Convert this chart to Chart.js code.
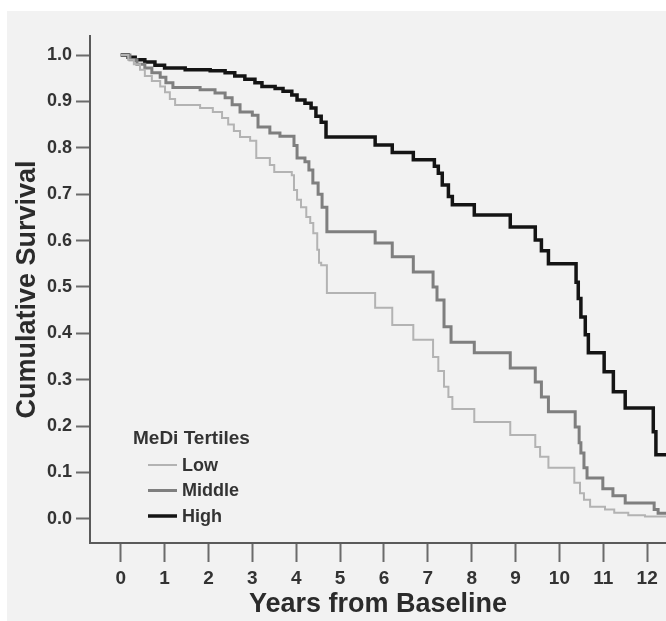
<!DOCTYPE html>
<html>
<head>
<meta charset="utf-8">
<title>Cumulative Survival by MeDi Tertiles</title>
<script src="https://cdn.jsdelivr.net/npm/chart.js@4.4.1/dist/chart.umd.min.js"></script>
<style>
  html, body { margin: 0; padding: 0; background: #fff; }
  #wrap { width: 666px; height: 621px; }
</style>
</head>
<body>
<div id="wrap"><canvas id="kmChart" width="666" height="621"></canvas></div>
<script>
'use strict';

// step points: [years, cumulative survival]
const lowYears = [0, 0.17, 0.30, 0.44, 0.55, 0.71, 0.90, 1.01, 1.12, 1.24, 1.81, 2.10, 2.31, 2.45, 2.58, 2.72, 2.95, 3.09, 3.40, 3.50, 3.90, 3.95, 4.02, 4.11, 4.23, 4.32, 4.39, 4.48, 4.52, 4.57, 4.70, 5.80, 6.19, 6.67, 7.12, 7.24, 7.37, 7.47, 7.56, 8.06, 8.88, 9.45, 9.56, 9.75, 10.34, 10.47, 10.56, 10.70, 11.04, 11.25, 11.57, 11.95, 12.43];
const lowSurv = [1.0, 0.99, 0.98, 0.968, 0.955, 0.944, 0.932, 0.92, 0.905, 0.892, 0.886, 0.877, 0.864, 0.85, 0.836, 0.823, 0.815, 0.778, 0.763, 0.748, 0.741, 0.709, 0.688, 0.672, 0.651, 0.638, 0.616, 0.58, 0.552, 0.547, 0.487, 0.455, 0.418, 0.386, 0.349, 0.319, 0.285, 0.263, 0.237, 0.209, 0.181, 0.155, 0.134, 0.11, 0.078, 0.055, 0.041, 0.026, 0.02, 0.013, 0.008, 0.005, 0.005];

const midYears = [0, 0.21, 0.37, 0.55, 0.71, 0.90, 1.03, 1.19, 1.81, 2.15, 2.38, 2.54, 2.72, 3.00, 3.13, 3.40, 3.63, 3.95, 4.02, 4.20, 4.29, 4.38, 4.50, 4.59, 4.70, 5.80, 6.19, 6.67, 7.12, 7.21, 7.37, 7.53, 8.06, 8.88, 9.45, 9.59, 9.75, 10.36, 10.45, 10.49, 10.56, 10.63, 10.99, 11.22, 11.50, 12.16, 12.25, 12.43];
const midSurv = [1.0, 0.99, 0.98, 0.972, 0.962, 0.952, 0.94, 0.93, 0.925, 0.918, 0.908, 0.893, 0.877, 0.87, 0.845, 0.832, 0.825, 0.805, 0.778, 0.77, 0.752, 0.724, 0.70, 0.672, 0.619, 0.595, 0.565, 0.532, 0.50, 0.472, 0.414, 0.381, 0.358, 0.325, 0.295, 0.263, 0.231, 0.198, 0.164, 0.142, 0.11, 0.088, 0.065, 0.05, 0.034, 0.02, 0.012, 0.012];

const highYears = [0, 0.17, 0.33, 0.55, 0.78, 1.00, 1.47, 2.04, 2.38, 2.60, 2.83, 3.06, 3.22, 3.52, 3.70, 3.90, 4.02, 4.20, 4.34, 4.45, 4.57, 4.68, 5.80, 6.19, 6.67, 7.15, 7.24, 7.33, 7.47, 7.56, 8.06, 8.88, 9.45, 9.59, 9.75, 10.38, 10.43, 10.49, 10.59, 10.66, 11.02, 11.23, 11.50, 12.14, 12.20, 12.43];
const highSurv = [1.0, 0.995, 0.99, 0.985, 0.978, 0.972, 0.968, 0.966, 0.962, 0.955, 0.948, 0.94, 0.932, 0.928, 0.922, 0.914, 0.903, 0.896, 0.886, 0.868, 0.855, 0.823, 0.806, 0.79, 0.774, 0.76, 0.745, 0.72, 0.695, 0.677, 0.655, 0.629, 0.601, 0.578, 0.55, 0.51, 0.475, 0.435, 0.397, 0.358, 0.317, 0.274, 0.239, 0.188, 0.138, 0.138];

const tertileNames = ['Low', 'Middle', 'High'];
const legendTitle = 'MeDi Tertiles';
const yearTicks = [0, 1, 2, 3, 4, 5, 6, 7, 8, 9, 10, 11, 12];
const survTicks = [0.0, 0.1, 0.2, 0.3, 0.4, 0.5, 0.6, 0.7, 0.8, 0.9, 1.0];

const fontFamily = '"Liberation Sans", Arial, Helvetica, sans-serif';
const textColor = '#333333';

function toPoints(xs, ys) {
	return xs.map((x, i) => ({ x: x, y: ys[i] }));
}

// light grey panel behind everything
const panelPlugin = {
	id: 'panel',
	beforeDraw(chart) {
		const ctx = chart.ctx;
		ctx.save();
		ctx.fillStyle = '#f2f2f2';
		ctx.fillRect(7, 11, chart.width - 7, chart.height - 11);
		ctx.restore();
	}
};

// legend sits inside the plot, lower left
const legendPlugin = {
	id: 'tertileLegend',
	afterDraw(chart) {
		const ctx = chart.ctx;
		ctx.save();
		ctx.textBaseline = 'middle';
		ctx.textAlign = 'left';
		ctx.fillStyle = textColor;
		ctx.font = 'bold 19px ' + fontFamily;
		ctx.fillText(legendTitle, 133, 439);
		ctx.font = 'bold 18px ' + fontFamily;
		chart.data.datasets.forEach((ds, i) => {
			const y = 465 + i * 25.5;
			ctx.strokeStyle = ds.borderColor;
			ctx.lineWidth = ds.borderWidth;
			ctx.beginPath();
			ctx.moveTo(148, y);
			ctx.lineTo(177, y);
			ctx.stroke();
			ctx.fillText(ds.label, 182, y + 1);
		});
		ctx.restore();
	}
};

const lineColors = ['#b3b3b3', '#7f7f7f', '#141414'];
const lineWidths = [2, 3, 3.5];
const seriesPoints = [
	toPoints(lowYears, lowSurv),
	toPoints(midYears, midSurv),
	toPoints(highYears, highSurv)
];

const kmData = {
	datasets: tertileNames.map((name, i) => ({
		label      : name,
		data       : seriesPoints[i],
		borderColor: lineColors[i],
		borderWidth: lineWidths[i],
		stepped    : 'before',
		pointRadius: 0,
		fill       : false
	}))
};

const ctx = document.getElementById('kmChart').getContext('2d');
new Chart(ctx, {
	type: 'line',
	data: kmData,
	plugins: [panelPlugin, legendPlugin],
	options: {
		responsive: false,
		animation : false,
		layout    : { padding: { top: 36, right: 0, bottom: 0, left: 0 } },
		plugins   : {
			legend : { display: false },
			tooltip: { enabled: false }
		},
		scales: {
			x: {
				type: 'linear',
				min : -0.70,
				max : 12.43,
				afterFit: scale => { scale.height = 78; },
				afterBuildTicks: scale => { scale.ticks = yearTicks.map(v => ({ value: v })); },
				grid  : { drawOnChartArea: false, drawTicks: true, tickLength: 19, tickColor: '#6b6b6b', tickWidth: 2 },
				border: { display: true, color: '#5a5a5a', width: 2 },
				ticks : {
					color: textColor,
					font : { family: fontFamily, size: 19, weight: 'bold' },
					padding: 5,
					maxRotation: 0,
					autoSkip: false,
					callback: v => String(v)
				},
				title: {
					display: true,
					text   : 'Years from Baseline',
					color  : '#2b2b2b',
					font   : { family: fontFamily, size: 27, weight: 'bold', lineHeight: 1 },
					padding: { top: 0, bottom: 3 }
				}
			},
			y: {
				type: 'linear',
				min : -0.052,
				max : 1.041,
				afterFit: scale => { scale.width = 90; },
				afterBuildTicks: scale => { scale.ticks = survTicks.map(v => ({ value: v })); },
				grid  : { drawOnChartArea: false, drawTicks: true, tickLength: 14, tickColor: '#6b6b6b', tickWidth: 2 },
				border: { display: true, color: '#5a5a5a', width: 2 },
				ticks : {
					color: textColor,
					font : { family: fontFamily, size: 18, weight: 'bold' },
					padding: 4,
					callback: v => v.toFixed(1)
				},
				title: {
					display: true,
					text   : 'Cumulative Survival',
					color  : '#2b2b2b',
					font   : { family: fontFamily, size: 27, weight: 'bold', lineHeight: 1 },
					padding: { top: 14, bottom: 0 }
				}
			}
		}
	}
});
</script>
</body>
</html>
